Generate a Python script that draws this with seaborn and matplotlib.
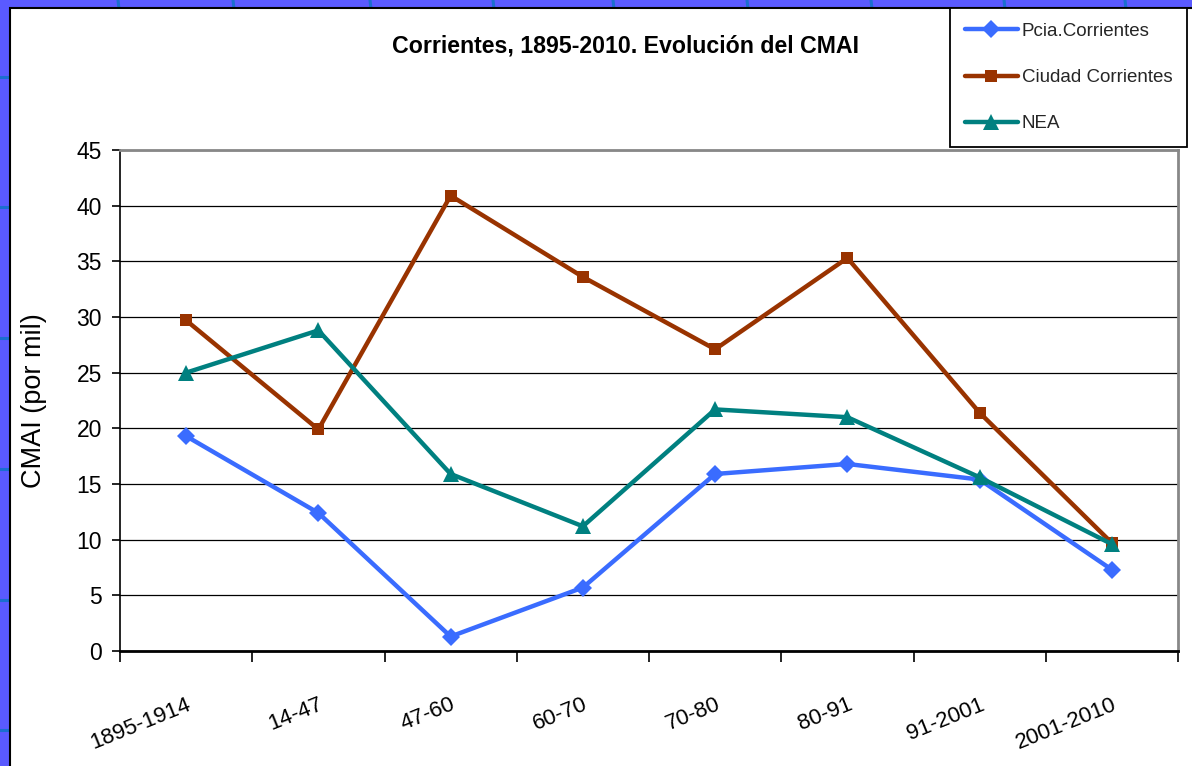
import matplotlib
matplotlib.use("Agg")
import matplotlib.pyplot as plt
import seaborn as sns
import pandas as pd
from matplotlib import font_manager
from matplotlib.patches import Rectangle
from matplotlib.lines import Line2D

# ---- data ----
categories = ["1895-1914", "14-47", "47-60", "60-70", "70-80", "80-91", "91-2001", "2001-2010"]
pcia = [19.3, 12.4, 1.3, 5.7, 15.9, 16.8, 15.4, 7.3]
ciudad = [29.7, 19.9, 40.9, 33.6, 27.1, 35.3, 21.4, 9.7]
nea = [25.0, 28.8, 15.9, 11.2, 21.7, 21.0, 15.6, 9.6]
series_names = ["Pcia.Corrientes", "Ciudad Corrientes", "NEA"]
y_ticks = [0, 5, 10, 15, 20, 25, 30, 35, 40, 45]
title = "Corrientes, 1895-2010. Evolución del CMAI"
ylabel = "CMAI (por mil)"

sns.set_theme(style="white")
names = {f.name for f in font_manager.fontManager.ttflist}
narrow_ok = "Liberation Sans Narrow" in names
narrow = "Liberation Sans Narrow" if narrow_ok else "Liberation Sans"
plt.rcParams['font.family'] = ['Liberation Sans', 'DejaVu Sans']

df = pd.DataFrame({
    "pos": list(range(len(categories))) * 3,
    "value": pcia + ciudad + nea,
    "serie": [n for n in series_names for _ in categories],
})

W, H = 1192, 766
def fx(px): return px / W
def fy(py): return 1 - py / H

fig = plt.figure(figsize=(W / 100, H / 100), dpi=100, facecolor="#5a5aff")

# slide background decoration (blue strips with darker lines)
for x in [118, 233, 370, 493, 613, 747, 871, 1004, 1125]:
    fig.add_artist(Line2D([fx(x), fx(x + 1)], [fy(0), fy(9)], color="#1a6fd0", lw=2.2,
                          transform=fig.transFigure, zorder=-3))
for y in [77, 207, 338, 469, 600, 730]:
    fig.add_artist(Line2D([fx(0), fx(10)], [fy(y), fy(y)], color="#1a6fd0", lw=2.2,
                          transform=fig.transFigure, zorder=-3))
fig.add_artist(Rectangle((fx(10), -0.01), 1.0, fy(8) + 0.01, transform=fig.transFigure,
                         facecolor="white", edgecolor="black", lw=1.5, zorder=-2))

ax = fig.add_axes([fx(120), fy(651), fx(1178) - fx(120), fy(150) - fy(651)])
ax.patch.set_alpha(0)

styles = {
    "Pcia.Corrientes": dict(color="#3a6cff", marker="D", markersize=9),
    "Ciudad Corrientes": dict(color="#993300", marker="s", markersize=9),
    "NEA": dict(color="#008080", marker="^", markersize=11),
}
for name in series_names:
    sub = df[df["serie"] == name]
    st = styles[name]
    sns.lineplot(data=sub, x="pos", y="value", ax=ax, color=st["color"], marker=st["marker"],
                 markersize=st["markersize"], markeredgewidth=0, lw=3.2, label=name, zorder=3)

ax.set_xlim(-0.5, len(categories) - 0.5)
ax.set_ylim(0, 45)
ax.set_yticks(y_ticks)
ax.set_yticklabels([str(v) for v in y_ticks], fontfamily=narrow, fontsize=18 if narrow_ok else 16.5)
ax.yaxis.grid(True, color="black", lw=0.9)
ax.xaxis.grid(False)
ax.set_xlabel("")
ax.set_ylabel(ylabel, fontsize=19.5, color="black")
ax.yaxis.set_label_coords(-0.069, 0.5)

ax.set_xticks([i - 0.5 for i in range(len(categories) + 1)])
ax.set_xticklabels([])
ax.set_xticks(range(len(categories)), minor=True)
ax.set_xticklabels(categories, minor=True, rotation=22, ha="right", va="top",
                   rotation_mode="anchor", fontfamily=narrow, fontsize=18 if narrow_ok else 16)
ax.tick_params(axis="x", which="major", bottom=True, length=8, width=1.2, color="black", direction="out")
ax.tick_params(axis="x", which="minor", bottom=True, length=0, pad=31, labelcolor="black")
ax.tick_params(axis="y", left=True, length=6, width=1.2, color="black", pad=7, labelcolor="black")

for side, col, lw in [("left", "black", 1.2), ("bottom", "black", 2.0), ("right", "#888888", 2.0), ("top", "#888888", 2.0)]:
    ax.spines[side].set_visible(True)
    ax.spines[side].set_color(col)
    ax.spines[side].set_linewidth(lw)

handles, labels = ax.get_legend_handles_labels()
if ax.get_legend() is not None:
    ax.get_legend().remove()
leg_size = 15.5 if narrow_ok else 13.5
fs_px = leg_size / 72 * 100
leg = fig.legend(handles, labels, loc="upper left", bbox_to_anchor=(fx(950), fy(8)),
                 bbox_transform=fig.transFigure, frameon=True, fancybox=False,
                 prop={"family": narrow, "size": leg_size}, handlelength=53 / fs_px,
                 handletextpad=4 / fs_px, labelspacing=(48 - fs_px) / fs_px,
                 borderpad=(24 - fs_px / 2) / fs_px, borderaxespad=0)
leg.get_frame().set_edgecolor("black")
leg.get_frame().set_linewidth(1.3)
leg.get_frame().set_alpha(1)

fig.text(fx(625), fy(46), title, ha="center", va="center", fontweight="bold",
         fontfamily=narrow, fontsize=18.5 if narrow_ok else 16.7, color="black")

fig.savefig("out.png", dpi=100, facecolor=fig.get_facecolor())
